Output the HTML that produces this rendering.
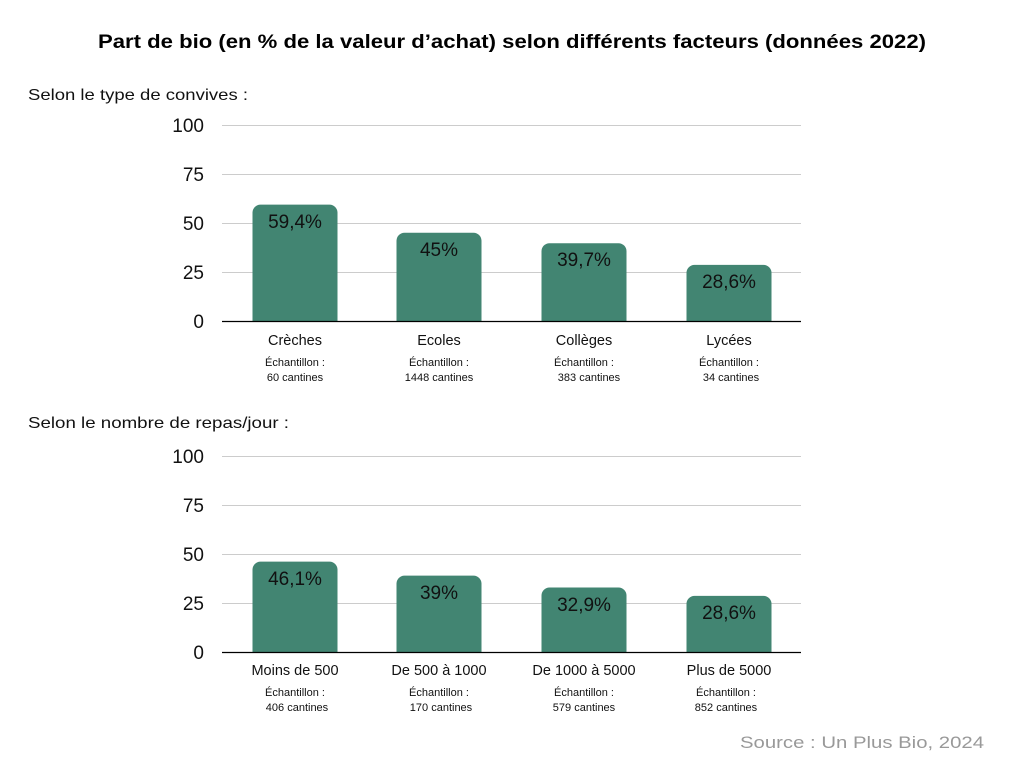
<!DOCTYPE html>
<html><head><meta charset="utf-8"><style>
html,body{margin:0;padding:0;background:#fff;}
svg{display:block;font-family:"Liberation Sans",sans-serif;}
</style></head><body>
<svg width="1024" height="768" viewBox="0 0 1024 768">
<text x="98" y="48" font-size="19" font-weight="bold" fill="#000" textLength="828" lengthAdjust="spacingAndGlyphs">Part de bio (en % de la valeur d’achat) selon différents facteurs (données 2022)</text>
<text x="28" y="100" font-size="16" fill="#111" textLength="220" lengthAdjust="spacingAndGlyphs">Selon le type de convives :</text>
<text x="28" y="428" font-size="16" fill="#111" textLength="261" lengthAdjust="spacingAndGlyphs">Selon le nombre de repas/jour :</text>

<g stroke="#cccccc" stroke-width="1">
<line x1="222" x2="801" y1="125.5" y2="125.5"/><line x1="222" x2="801" y1="174.5" y2="174.5"/><line x1="222" x2="801" y1="223.5" y2="223.5"/><line x1="222" x2="801" y1="272.5" y2="272.5"/>
<line x1="222" x2="801" y1="456.5" y2="456.5"/><line x1="222" x2="801" y1="505.5" y2="505.5"/><line x1="222" x2="801" y1="554.5" y2="554.5"/><line x1="222" x2="801" y1="603.5" y2="603.5"/>
</g>
<g font-size="19" fill="#111" text-anchor="end">
<text x="204" y="132">100</text><text x="204" y="181">75</text><text x="204" y="230">50</text><text x="204" y="279">25</text><text x="204" y="328">0</text>
<text x="204" y="463">100</text><text x="204" y="512">75</text><text x="204" y="561">50</text><text x="204" y="610">25</text><text x="204" y="659">0</text>
</g>
<g fill="#428572">
<path d="M252.5 321V212.6a8 8 0 0 1 8-8H329.5a8 8 0 0 1 8 8V321Z"/>
<path d="M396.5 321V240.8a8 8 0 0 1 8-8H473.5a8 8 0 0 1 8 8V321Z"/>
<path d="M541.5 321V251.2a8 8 0 0 1 8-8H618.5a8 8 0 0 1 8 8V321Z"/>
<path d="M686.5 321V272.9a8 8 0 0 1 8-8H763.5a8 8 0 0 1 8 8V321Z"/>
<path d="M252.5 652V569.6a8 8 0 0 1 8-8H329.5a8 8 0 0 1 8 8V652Z"/>
<path d="M396.5 652V583.6a8 8 0 0 1 8-8H473.5a8 8 0 0 1 8 8V652Z"/>
<path d="M541.5 652V595.5a8 8 0 0 1 8-8H618.5a8 8 0 0 1 8 8V652Z"/>
<path d="M686.5 652V603.9a8 8 0 0 1 8-8H763.5a8 8 0 0 1 8 8V652Z"/>
</g>
<line x1="222" x2="801" y1="321.5" y2="321.5" stroke="#000" stroke-width="1.3"/>
<line x1="222" x2="801" y1="652.5" y2="652.5" stroke="#000" stroke-width="1.3"/>
<g font-size="19" fill="#111" text-anchor="middle">
<text x="295" y="228">59,4%</text><text x="439" y="256">45%</text><text x="584" y="266">39,7%</text><text x="729" y="288">28,6%</text>
<text x="295" y="585">46,1%</text><text x="439" y="599">39%</text><text x="584" y="611">32,9%</text><text x="729" y="619">28,6%</text>
</g>
<g font-size="14.5" fill="#111" text-anchor="middle">
<text x="295" y="345">Crèches</text><text x="439" y="345">Ecoles</text><text x="584" y="345">Collèges</text><text x="729" y="345">Lycées</text>
<text x="295" y="675">Moins de 500</text><text x="439" y="675">De 500 à 1000</text><text x="584" y="675">De 1000 à 5000</text><text x="729" y="675">Plus de 5000</text>
</g>
<g font-size="11" fill="#111" text-anchor="middle">
<text x="295" y="366">Échantillon :</text><text x="295" y="381">60 cantines</text>
<text x="439" y="366">Échantillon :</text><text x="439" y="381">1448 cantines</text>
<text x="584" y="366">Échantillon :</text><text x="589" y="381">383 cantines</text>
<text x="729" y="366">Échantillon :</text><text x="731" y="381">34 cantines</text>
<text x="295" y="696">Échantillon :</text><text x="297" y="711">406 cantines</text>
<text x="439" y="696">Échantillon :</text><text x="441" y="711">170 cantines</text>
<text x="584" y="696">Échantillon :</text><text x="584" y="711">579 cantines</text>
<text x="726" y="696">Échantillon :</text><text x="726" y="711">852 cantines</text>
</g>
<text x="740" y="748" font-size="17" fill="#999" textLength="244" lengthAdjust="spacingAndGlyphs">Source : Un Plus Bio, 2024</text>
</svg>
</body></html>
